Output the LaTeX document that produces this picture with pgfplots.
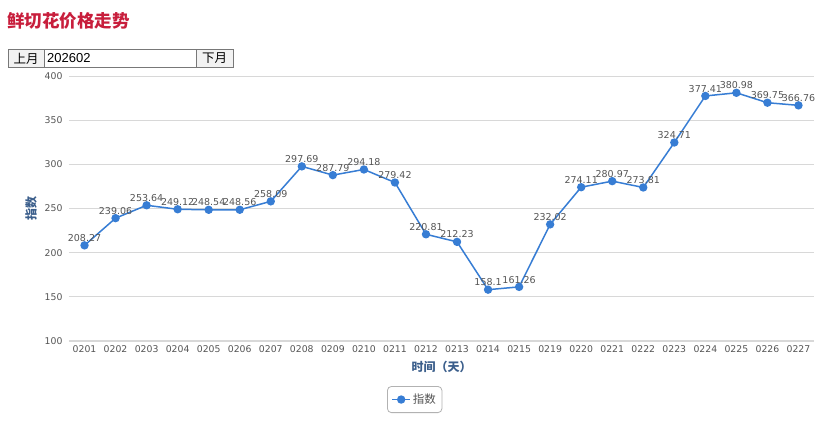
\documentclass[border=0pt]{standalone}
\usepackage{pgfplots}
\pgfplotsset{compat=1.18}
\usepackage{fontspec}
\setmainfont{DejaVu Sans}
\newfontfamily\cjk{Noto Sans CJK SC}
\newfontfamily\arial{Liberation Sans}
\definecolor{titlered}{RGB}{200,30,60}
\definecolor{linecol}{RGB}{55,125,212}
\definecolor{lblblue}{RGB}{60,95,140}
\definecolor{ticktxt}{RGB}{85,85,85}
\definecolor{gridc}{RGB}{216,216,216}
\definecolor{btnbord}{RGB}{120,120,120}
\begin{document}
\begin{tikzpicture}[x=1pt,y=1pt]
\useasboundingbox[fill=white] (0,0) rectangle (823,-427);
\node[anchor=west, inner sep=0, text=titlered, font=\cjk\bfseries\fontsize{17.5}{17.5}\selectfont] at (7,-20.5) {鲜切花价格走势};
\draw[fill=gray!10, draw=btnbord, line width=0.7pt] (8,-49.5) rectangle (44,-67.5);
\node[font=\cjk\fontsize{12.5}{12.5}\selectfont, text=black] at (26,-58.5) {上月};
\draw[fill=white, draw=btnbord, line width=0.7pt] (44,-49.5) rectangle (196,-67.5);
\node[anchor=west, inner sep=0, font=\arial\fontsize{13}{13}\selectfont, text=black] at (47,-58.5) {202602};
\draw[fill=gray!10, draw=btnbord, line width=0.7pt] (196,-49.5) rectangle (233,-67.5);
\node[font=\cjk\fontsize{12.5}{12.5}\selectfont, text=black] at (214.5,-58.5) {下月};
\begin{axis}[
  at={(69pt,-341pt)}, anchor=south west,
  width=745pt, height=265pt, scale only axis,
  xmin=-0.5, xmax=23.5, ymin=100, ymax=400,
  ytick={100,150,...,400},
  xtick={0,...,23},
  xticklabels={0201,0202,0203,0204,0205,0206,0207,0208,0209,0210,0211,0212,0213,0214,0215,0219,0220,0221,0222,0223,0224,0225,0226,0227},
  extra x ticks={-0.5,0.5,...,23.5},
  extra x tick labels={},
  extra x tick style={major tick length=5pt, tick align=outside, tick style={draw=gridc, line width=0.8pt}, grid=none},
  major x tick style={draw=none},
  major y tick style={draw=none},
  axis x line*=bottom,
  axis y line*=left,
  y axis line style={draw=none},
  x axis line style={draw=gridc, line width=1.6pt, -},
  ymajorgrids, grid style={draw=gridc, line width=0.9pt},
  tick label style={text=ticktxt, font=\fontsize{9.3}{9.3}\selectfont},
  /pgf/number format/assume math mode=true,
  yticklabel style={anchor=east, xshift=-3pt},
  xticklabel style={yshift=-1pt},
  xlabel={\cjk\bfseries 时间（天）},
  ylabel={\cjk\bfseries 指数},
  xlabel style={text=lblblue, font=\fontsize{12}{12}\selectfont, yshift=3pt},
  ylabel style={text=lblblue, font=\fontsize{12}{12}\selectfont, yshift=1pt},
  legend style={at={(0.464,-0.17)}, anchor=north, draw=gray!60, rounded corners=4pt, font=\cjk\fontsize{11.5}{11.5}\selectfont, text=ticktxt, inner xsep=4pt, inner ysep=5.5pt, line width=0.8pt},
  legend image code/.code={\draw[#1, mark repeat=2, mark phase=2] plot coordinates {(0pt,0pt) (9pt,0pt) (18pt,0pt)};},
  clip=false,
]
\addplot[color=linecol, line width=1.5pt, mark=*, mark size=3.4pt, mark options={fill=linecol, draw=linecol},
  point meta=explicit symbolic,
  nodes near coords,
  nodes near coords style={font=\fontsize{9.5}{9.5}\selectfont, text=ticktxt, anchor=south, yshift=1pt, inner sep=2pt}]
coordinates {
(0,208.27) [208.27]
(1,239.06) [239.06]
(2,253.64) [253.64]
(3,249.12) [249.12]
(4,248.54) [248.54]
(5,248.56) [248.56]
(6,258.09) [258.09]
(7,297.69) [297.69]
(8,287.79) [287.79]
(9,294.18) [294.18]
(10,279.42) [279.42]
(11,220.81) [220.81]
(12,212.23) [212.23]
(13,158.1) [158.1]
(14,161.26) [161.26]
(15,232.02) [232.02]
(16,274.11) [274.11]
(17,280.97) [280.97]
(18,273.81) [273.81]
(19,324.71) [324.71]
(20,377.41) [377.41]
(21,380.98) [380.98]
(22,369.75) [369.75]
(23,366.76) [366.76]
};
\addlegendentry{指数}
\end{axis}
\end{tikzpicture}
\end{document}
